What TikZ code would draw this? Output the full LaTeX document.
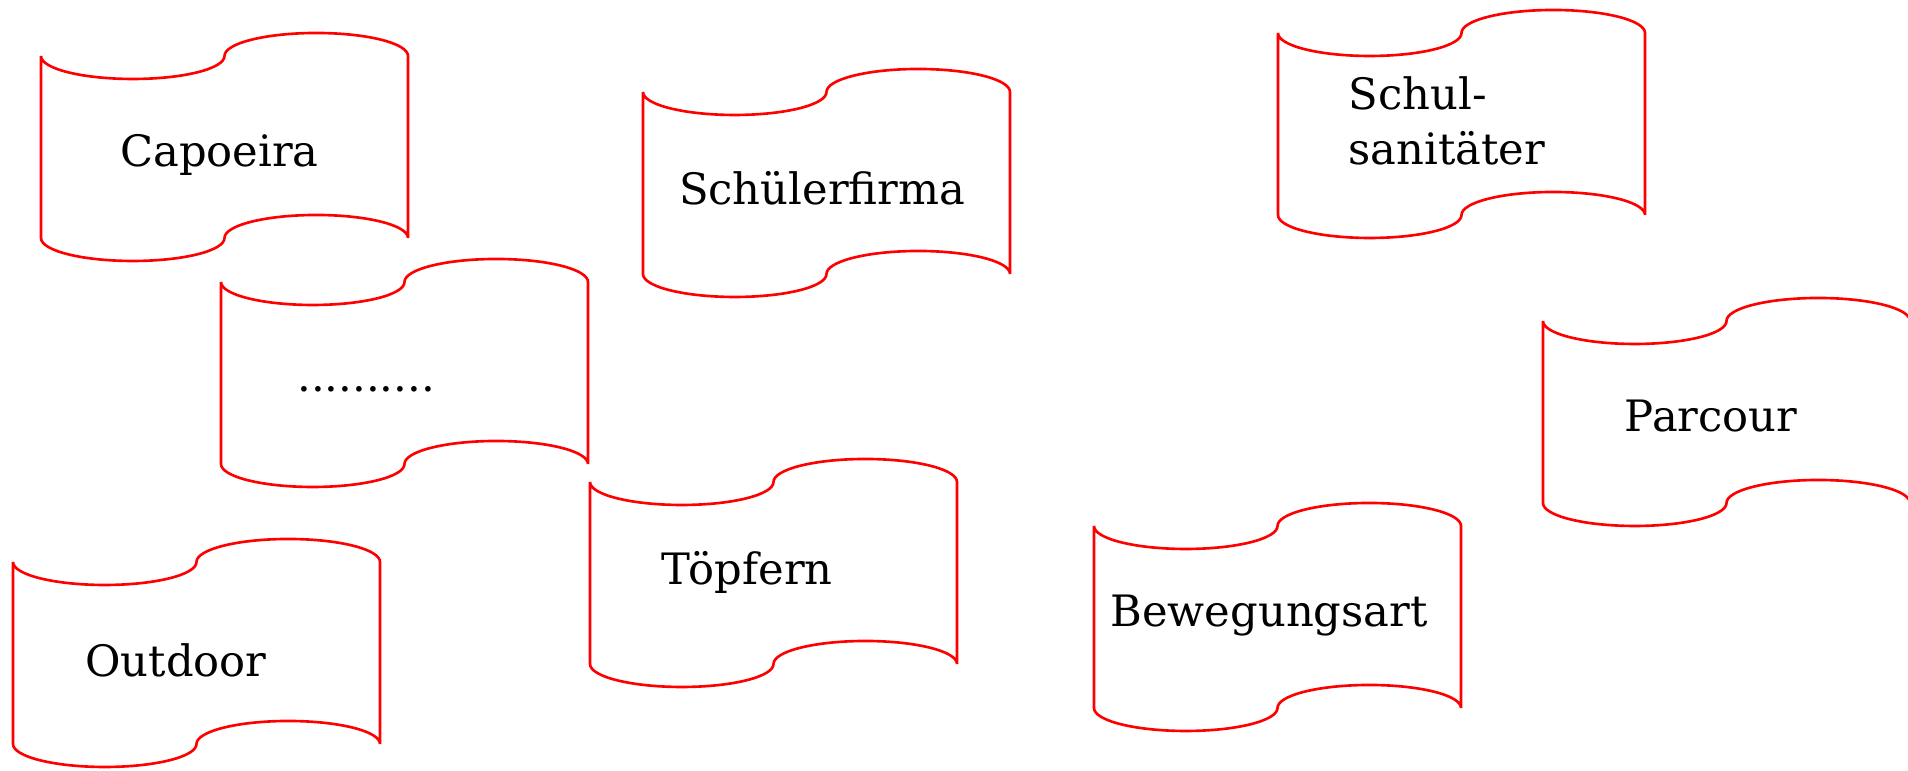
\documentclass[tikz,border=0pt]{standalone}
\usepackage{fontspec}
\setmainfont{DejaVu Serif}
\tikzset{
  tapeline/.style={draw=red, line width=0.75pt, fill=white},
  tape/.pic={
    \path[tapeline] (0,-23)
      arc[start angle=180,end angle=360,x radius=91.75,y radius=23]
      arc[start angle=180,end angle=0,x radius=91.75,y radius=23]
      -- (367,-205)
      arc[start angle=0,end angle=180,x radius=91.75,y radius=23]
      arc[start angle=360,end angle=180,x radius=91.75,y radius=23]
      -- cycle;
  },
  lbl/.style={font=\fontsize{12.3}{15}\selectfont, inner sep=0pt, anchor=base},
  lbll/.style={font=\fontsize{12.3}{15}\selectfont, inner sep=0pt, anchor=base west}
}
\begin{document}
\begin{tikzpicture}[x=0.01cm,y=0.01cm]
\useasboundingbox (0,0) rectangle (1908,771);
% shapes: pic at (x0, 771-top)
\pic at (41,738) {tape};
\pic at (643,702) {tape};
\pic at (1278,761) {tape};
\pic at (221,512) {tape};
\pic at (1543,473) {tape};
\pic at (590,312) {tape};
\pic at (13,232) {tape};
\pic at (1094,268) {tape};
% labels (baseline y = 771 - y_screen)
\node[lbl] (capoeira) at (219.5,604) {Capoeira};
\node[lbl] (firma) at (822,566) {Schülerfirma};
\node[lbll] (schul) at (1348,661) {Schul-};
\node[lbll] (sani) at (1348,606) {sanitäter};
\node[lbl] (dots) at (366,379) {..........};
\node[lbl] (parcour) at (1711,339) {Parcour};
\node[lbl] (toepfern) at (747,186) {Töpfern};
\node[lbl] (outdoor) at (176,94) {Outdoor};
\node[lbl] (beweg) at (1269,144) {Bewegungsart};
\end{tikzpicture}
\end{document}
